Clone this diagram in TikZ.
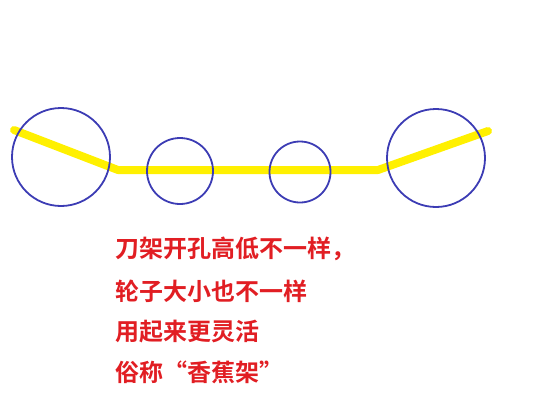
\documentclass[tikz,border=0pt]{standalone}
\usepackage{fontspec}
\newfontfamily\cjk{Noto Sans CJK SC}[BoldFont={* Bold}]
\usetikzlibrary{positioning}
\definecolor{xyellow}{RGB}{255,240,0}
\definecolor{xblue}{RGB}{60,60,180}
\definecolor{xred}{RGB}{225,30,35}
\tikzset{
	rail/.style={line width=8pt, draw=xyellow, line cap=round, line join=round},
	wheel/.style={circle, draw=xblue, line width=1.8pt, inner sep=0pt},
	note/.style={anchor=base west, inner sep=0pt, text=xred, font=\cjk\bfseries\fontsize{24}{24}\selectfont},
}

\begin{document}
\begin{tikzpicture}[x=1pt, y=-1pt]
		\useasboundingbox (0,0) rectangle (550,400);
		% rail
		\coordinate (k1) at (14,130);
		\coordinate (k2) at (118,170);
		\coordinate (k3) at (378,170);
		\coordinate (k4) at (488,131);
		\draw[rail] (k1) -- (k2) -- (k3) -- (k4);

		% wheels
		\node[wheel, minimum size=98pt] (w1) at (61,157) {};
		\node[wheel, minimum size=66pt] (w2) at (180,171) {};
		\node[wheel, minimum size=61pt] (w3) at (300,172) {};
		\node[wheel, minimum size=98pt] (w4) at (436,158) {};

		% text
		\node[note] (t1) at (115,257) {刀架开孔高低不一样，};
		\node[note] (t2) at (115,300) {轮子大小也不一样};
		\node[note] (t3) at (115,340) {用起来更灵活};
		\node[note] (t4) at (115,381) {俗称“香蕉架”};
	\end{tikzpicture}
\end{document}
